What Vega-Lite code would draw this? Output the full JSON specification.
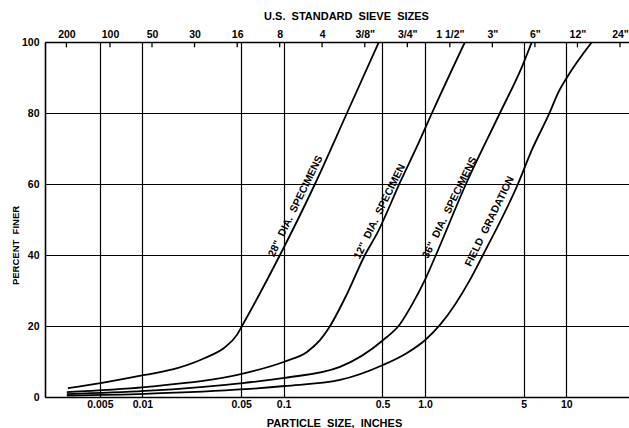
{
  "$schema": "https://vega.github.io/schema/vega-lite/v6.json",
  "width": 584,
  "height": 355,
  "autosize": "none",
  "padding": {"left": 45, "top": 42, "right": 0, "bottom": 31},
  "background": "white",
  "config": {
    "view": {"stroke": null},
    "font": "Liberation Sans",
    "axis": {
      "labelFont": "Liberation Sans",
      "labelFontWeight": "bold",
      "labelColor": "black",
      "labelFontSize": 10.5,
      "titleFont": "Liberation Sans",
      "titleFontWeight": "bold",
      "titleColor": "black",
      "titleFontSize": 11,
      "domainColor": "black",
      "domainWidth": 1.6,
      "gridColor": "black",
      "gridOpacity": 1,
      "gridWidth": 1.2,
      "labelOverlap": false,
      "labelBound": false,
      "labelFlush": false
    }
  },
  "layer": [
    {
      "data": {
        "values": [
          {"series": "28", "size": 0.00297, "finer": 2.5},
          {"series": "28", "size": 0.00518, "finer": 4},
          {"series": "28", "size": 0.0104, "finer": 6.2},
          {"series": "28", "size": 0.0179, "finer": 8.2},
          {"series": "28", "size": 0.0277, "finer": 11},
          {"series": "28", "size": 0.0384, "finer": 14},
          {"series": "28", "size": 0.0467, "finer": 17.5},
          {"series": "28", "size": 0.0507, "finer": 20},
          {"series": "28", "size": 0.0942, "finer": 40},
          {"series": "28", "size": 0.1666, "finer": 60},
          {"series": "28", "size": 0.2807, "finer": 80},
          {"series": "28", "size": 0.4723, "finer": 100},
          {"series": "12", "size": 0.00292, "finer": 1.4},
          {"series": "12", "size": 0.0104, "finer": 2.8},
          {"series": "12", "size": 0.0532, "finer": 6.7},
          {"series": "12", "size": 0.1021, "finer": 10},
          {"series": "12", "size": 0.1462, "finer": 12.7},
          {"series": "12", "size": 0.1807, "finer": 16},
          {"series": "12", "size": 0.2093, "finer": 19.5},
          {"series": "12", "size": 0.2805, "finer": 29},
          {"series": "12", "size": 0.376, "finer": 40},
          {"series": "12", "size": 0.4573, "finer": 46},
          {"series": "12", "size": 0.676, "finer": 61},
          {"series": "12", "size": 0.9, "finer": 71.5},
          {"series": "12", "size": 1.121, "finer": 80},
          {"series": "12", "size": 1.919, "finer": 100},
          {"series": "36", "size": 0.00292, "finer": 0.8},
          {"series": "36", "size": 0.0104, "finer": 1.7},
          {"series": "36", "size": 0.0532, "finer": 4},
          {"series": "36", "size": 0.1021, "finer": 5.4},
          {"series": "36", "size": 0.2503, "finer": 8.5},
          {"series": "36", "size": 0.5046, "finer": 16},
          {"series": "36", "size": 0.665, "finer": 20.5},
          {"series": "36", "size": 0.8224, "finer": 26.5},
          {"series": "36", "size": 1.0, "finer": 33},
          {"series": "36", "size": 1.196, "finer": 40},
          {"series": "36", "size": 1.951, "finer": 60},
          {"series": "36", "size": 3.394, "finer": 80},
          {"series": "36", "size": 4.857, "finer": 93},
          {"series": "36", "size": 5.71, "finer": 100},
          {"series": "field", "size": 0.00292, "finer": 0.4},
          {"series": "field", "size": 0.0104, "finer": 0.9},
          {"series": "field", "size": 0.0532, "finer": 2.2},
          {"series": "field", "size": 0.1021, "finer": 3.1},
          {"series": "field", "size": 0.2503, "finer": 4.8},
          {"series": "field", "size": 0.5046, "finer": 9},
          {"series": "field", "size": 0.746, "finer": 12.4},
          {"series": "field", "size": 1.0, "finer": 16},
          {"series": "field", "size": 1.277, "finer": 20.3},
          {"series": "field", "size": 2.082, "finer": 33},
          {"series": "field", "size": 2.574, "finer": 40},
          {"series": "field", "size": 4.55, "finer": 60},
          {"series": "field", "size": 5.71, "finer": 69.6},
          {"series": "field", "size": 7.67, "finer": 80.3},
          {"series": "field", "size": 8.74, "finer": 85.6},
          {"series": "field", "size": 10.11, "finer": 90},
          {"series": "field", "size": 15.2, "finer": 100}
        ]
      },
      "mark": {"type": "line", "interpolate": "monotone", "color": "black", "strokeWidth": 1.8, "clip": true},
      "encoding": {
        "x": {
          "field": "size",
          "type": "quantitative",
          "scale": {"type": "log", "domain": [0.002046, 27.8], "nice": false},
          "axis": {
            "orient": "bottom",
            "values": [0.005, 0.01, 0.05, 0.1, 0.5, 1, 5, 10],
            "labelExpr": "datum.value == 1 ? '1.0' : toString(datum.value)",
            "grid": true,
            "ticks": false,
            "labelPadding": 2,
            "title": "PARTICLE\u00a0\u00a0SIZE,\u00a0\u00a0INCHES",
            "titleX": 289,
            "titleY": 26,
            "titleAlign": "center",
            "titleBaseline": "middle"
          }
        },
        "y": {
          "field": "finer",
          "type": "quantitative",
          "scale": {"domain": [0, 100], "nice": false},
          "axis": {
            "orient": "left",
            "values": [0, 20, 40, 60, 80, 100],
            "grid": true,
            "ticks": false,
            "labelPadding": 6,
            "title": "PERCENT\u00a0\u00a0FINER",
            "titleFontSize": 9.5,
            "titleX": -30,
            "titleY": 203,
            "titleAngle": -90,
            "titleAlign": "center",
            "titleBaseline": "middle"
          }
        },
        "detail": {"field": "series"}
      }
    },
    {
      "data": {
        "values": [
          {"sieve": 0.0029}, {"sieve": 0.0059}, {"sieve": 0.0117}, {"sieve": 0.0234},
          {"sieve": 0.0469}, {"sieve": 0.0937}, {"sieve": 0.187}, {"sieve": 0.375},
          {"sieve": 0.75}, {"sieve": 1.5}, {"sieve": 3}, {"sieve": 6}, {"sieve": 12}, {"sieve": 24}
        ]
      },
      "mark": {"type": "rule", "color": "black", "strokeWidth": 1.3},
      "encoding": {
        "x": {"field": "sieve", "type": "quantitative", "axis": null},
        "y": {"datum": 100, "type": "quantitative", "axis": null},
        "y2": {"datum": 98.5}
      }
    },
    {
      "data": {
        "values": [
          {"label": "28\"\u00a0\u00a0DIA.\u00a0\u00a0SPECIMENS", "x": 0.126, "y": 55},
          {"label": "12''\u00a0\u00a0DIA.\u00a0\u00a0SPECIMEN", "x": 0.496, "y": 53.5},
          {"label": "36\"\u00a0\u00a0DIA.\u00a0\u00a0SPECIMENS", "x": 1.553, "y": 54.6},
          {"label": "FIELD\u00a0\u00a0GRADATION", "x": 2.98, "y": 50.7}
        ]
      },
      "mark": {"type": "text", "angle": -64, "font": "Liberation Sans", "fontWeight": "bold", "fontSize": 10.5, "color": "black", "align": "center", "baseline": "middle", "dx": -5},
      "encoding": {
        "x": {
          "field": "x",
          "type": "quantitative",
          "axis": {
            "orient": "top",
            "values": [0.0029, 0.0059, 0.0117, 0.0234, 0.0469, 0.0937, 0.187, 0.375, 0.75, 1.5, 3, 6, 12, 24],
            "labelExpr": "datum.value < 0.004 ? '200' : datum.value < 0.008 ? '100' : datum.value < 0.015 ? '50' : datum.value < 0.03 ? '30' : datum.value < 0.06 ? '16' : datum.value < 0.12 ? '8' : datum.value < 0.25 ? '4' : datum.value < 0.5 ? '3/8\"' : datum.value < 1 ? '3/4\"' : datum.value < 2 ? '1 1/2\"' : datum.value < 4 ? '3\"' : datum.value < 8 ? '6\"' : datum.value < 16 ? '12\"' : '24\"'",
            "grid": false,
            "ticks": false,
            "labelPadding": 3,
            "title": "U.S.\u00a0\u00a0STANDARD\u00a0\u00a0SIEVE\u00a0\u00a0SIZES",
            "titleX": 301,
            "titleY": -26,
            "titleAlign": "center",
            "titleBaseline": "middle"
          }
        },
        "y": {"field": "y", "type": "quantitative", "axis": null},
        "text": {"field": "label"}
      }
    }
  ],
  "resolve": {"axis": {"x": "independent", "y": "independent"}}
}
